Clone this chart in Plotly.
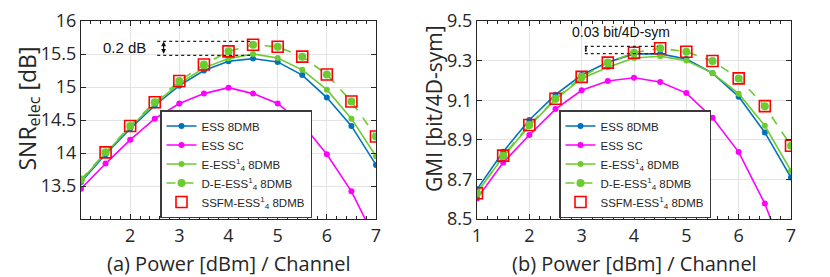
import plotly.graph_objects as go

# ---------------- data ----------------
power = [1, 1.5, 2, 2.5, 3, 3.5, 4, 4.5, 5, 5.5, 6, 6.5, 7]

snr_ess_8dmb = [13.56, 13.98, 14.37, 14.72, 15.02, 15.25, 15.39, 15.43, 15.38, 15.18, 14.84, 14.41, 13.82]
snr_ess_sc = [13.46, 13.84, 14.20, 14.52, 14.75, 14.90, 14.99, 14.90, 14.75, 14.44, 13.98, 13.42, 12.67]
snr_eess_8dmb = [13.58, 14.00, 14.39, 14.75, 15.05, 15.29, 15.43, 15.50, 15.44, 15.26, 14.96, 14.52, 13.95]
snr_deess_8dmb = [13.60, 14.01, 14.41, 14.77, 15.09, 15.34, 15.54, 15.64, 15.61, 15.46, 15.19, 14.78, 14.25]
snr_ssfm_power = [1.5, 2, 2.5, 3, 3.5, 4, 4.5, 5, 5.5, 6, 6.5, 7]
snr_ssfm_8dmb = [14.01, 14.41, 14.77, 15.09, 15.34, 15.54, 15.64, 15.61, 15.46, 15.19, 14.78, 14.25]

gmi_ess_8dmb = [8.65, 8.84, 9.00, 9.128, 9.227, 9.292, 9.334, 9.334, 9.308, 9.237, 9.118, 8.937, 8.709]
gmi_ess_sc = [8.603, 8.785, 8.924, 9.055, 9.150, 9.197, 9.213, 9.192, 9.136, 9.011, 8.838, 8.578, 8.23]
gmi_eess_8dmb = [8.633, 8.815, 8.97, 9.104, 9.21, 9.266, 9.313, 9.322, 9.30, 9.237, 9.133, 8.971, 8.743]
gmi_deess_8dmb = [8.63, 8.82, 8.975, 9.107, 9.218, 9.29, 9.34, 9.362, 9.345, 9.298, 9.21, 9.07, 8.87]
gmi_ssfm_power = [1, 1.5, 2, 2.5, 3, 3.5, 4, 4.5, 5, 5.5, 6, 6.5, 7]
gmi_ssfm_8dmb = [8.63, 8.82, 8.975, 9.107, 9.218, 9.29, 9.34, 9.362, 9.345, 9.298, 9.21, 9.07, 8.87]

series_names = ["ESS 8DMB", "ESS SC", "E-ESS<sup>1</sup><sub>4</sub> 8DMB",
                "D-E-ESS<sup>1</sup><sub>4</sub> 8DMB", "SSFM-ESS<sup>1</sup><sub>4</sub> 8DMB"]

snr_xticks = [2, 3, 4, 5, 6, 7]
snr_yticks = [13.5, 14, 14.5, 15, 15.5, 16]
snr_yticklabels = ["13.5", "14", "14.5", "15", "15.5", "16"]
gmi_xticks = [1, 2, 3, 4, 5, 6, 7]
gmi_yticks = [8.5, 8.7, 8.9, 9.1, 9.3, 9.5]
gmi_yticklabels = ["8.5", "8.7", "8.9", "9.1", "9.3", "9.5"]

x_title_a = "(a) Power [dBm] / Channel"
x_title_b = "(b) Power [dBm] / Channel"
y_title_a = "SNR<sub>elec</sub> [dB]"
y_title_b = "GMI [bit/4D-sym]"

# annotation values
snr_gap_lines = [15.69, 15.48]
gmi_gap_lines = [9.372, 9.335]

# ---------------- style ----------------
BLUE = "#0072BD"
MAG = "#FF00FF"
GREEN = "#6CCB2E"
RED = "#FF0000"
AX = "#262626"
GRID = "#E3E3E3"
TICKFONT = dict(family="Open Sans", size=18, color=AX)
TITLEFONT = dict(family="Open Sans", size=20, color=AX)
LEGFONT = dict(family="Liberation Sans, Arial", size=11.5, color=AX)

fig = go.Figure()


def add_panel(xa, ya, leg, x, ess, sc, eess, deess, ssfm_x, ssfm):
    common = dict(xaxis=xa, yaxis=ya, legend=leg)
    fig.add_trace(go.Scatter(x=x, y=ess, mode="lines+markers", name=series_names[0],
                             line=dict(color=BLUE, width=1.6), marker=dict(size=6, color=BLUE),
                             **common))
    fig.add_trace(go.Scatter(x=x, y=sc, mode="lines+markers", name=series_names[1],
                             line=dict(color=MAG, width=1.6), marker=dict(size=6, color=MAG),
                             **common))
    fig.add_trace(go.Scatter(x=x, y=eess, mode="lines+markers", name=series_names[2],
                             line=dict(color=GREEN, width=1.6), marker=dict(size=6, color=GREEN),
                             **common))
    fig.add_trace(go.Scatter(x=x, y=deess, mode="lines+markers", name=series_names[3],
                             line=dict(color=GREEN, width=1.6, dash="dash"),
                             marker=dict(size=8, color=GREEN), **common))
    fig.add_trace(go.Scatter(x=ssfm_x, y=ssfm, mode="markers", name=series_names[4],
                             marker=dict(size=11, symbol="square-open", color=RED,
                                         line=dict(width=1.6, color=RED)), **common))


add_panel("x", "y", "legend", power, snr_ess_8dmb, snr_ess_sc, snr_eess_8dmb, snr_deess_8dmb,
          snr_ssfm_power, snr_ssfm_8dmb)
add_panel("x2", "y2", "legend2", power, gmi_ess_8dmb, gmi_ess_sc, gmi_eess_8dmb, gmi_deess_8dmb,
          gmi_ssfm_power, gmi_ssfm_8dmb)

# The page body has an 8 px margin, so the figure sits at (8, 8) in the window.
OFF = 8
W, H = 830 - OFF, 277 - OFF


def px(v):
    return (v - OFF) / W


def py(v):
    return 1 - (v - OFF) / H


y_dom = [py(219), py(21)]

xcommon = dict(showline=True, linecolor=AX, linewidth=1.3, mirror="ticks", ticks="inside",
               ticklen=5, tickcolor=AX, tickwidth=1, showgrid=True, gridcolor=GRID, gridwidth=1,
               tickfont=TICKFONT, zeroline=False, automargin=False,
               minor=dict(dtick=0.2, tick0=1, ticks="inside", ticklen=3, tickcolor=AX, showgrid=False))
ycommon = dict(showline=True, linecolor=AX, linewidth=1.3, mirror="ticks", ticks="inside",
               ticklen=5, tickcolor=AX, tickwidth=1, showgrid=True, gridcolor=GRID, gridwidth=1,
               tickfont=TICKFONT, zeroline=False, automargin=False)

legcommon = dict(bgcolor="white", bordercolor="#3A3A3A", borderwidth=1.5, font=LEGFONT,
                 xanchor="left", yanchor="bottom", tracegroupgap=0, itemwidth=30)

fig.update_layout(
    width=W, height=H,
    margin=dict(l=0, r=0, t=0, b=0),
    paper_bgcolor="white", plot_bgcolor="white",
    xaxis=dict(domain=[px(81), px(376)], range=[1, 7], tickvals=snr_xticks, anchor="y", **xcommon),
    yaxis=dict(domain=y_dom, range=[13, 16], tickvals=snr_yticks, ticktext=snr_yticklabels,
               anchor="x", **ycommon),
    xaxis2=dict(domain=[px(477), px(791)], range=[1, 7], tickvals=gmi_xticks, anchor="y2", **xcommon),
    yaxis2=dict(domain=y_dom, range=[8.5, 9.5], tickvals=gmi_yticks, ticktext=gmi_yticklabels,
                anchor="x2", **ycommon),
    legend=dict(x=px(160), y=py(218), **legcommon),
    legend2=dict(x=px(559), y=py(218), **legcommon),
    showlegend=True,
)

# axis titles
fig.add_annotation(xref="paper", yref="paper", x=px(229), y=py(263), text=x_title_a,
                   showarrow=False, font=TITLEFONT, xanchor="center", yanchor="middle", borderpad=0)
fig.add_annotation(xref="paper", yref="paper", x=px(634), y=py(263), text=x_title_b,
                   showarrow=False, font=TITLEFONT, xanchor="center", yanchor="middle", borderpad=0)
fig.add_annotation(xref="paper", yref="paper", x=px(9), y=py(109), text=y_title_a,
                   showarrow=False, font=dict(family="Open Sans", size=23, color=AX), textangle=-90,
                   xanchor="left", yanchor="middle", borderpad=0)
fig.add_annotation(xref="paper", yref="paper", x=px(434), y=py(109), text=y_title_b,
                   showarrow=False, font=dict(family="Open Sans", size=21, color=AX), textangle=-90,
                   xanchor="center", yanchor="middle", borderpad=0)

# ---------------- annotations ----------------
dot = dict(color="#222222", width=1.2, dash="dot")
# panel (a): 0.2 dB
for yv in snr_gap_lines:
    fig.add_shape(type="line", xref="x", yref="y", x0=2.55, x1=4.48, y0=yv, y1=yv, line=dot)
fig.add_annotation(xref="x", yref="y", x=2.68, y=snr_gap_lines[0], ax=2.68, ay=snr_gap_lines[1],
                   axref="x", ayref="y", text="", showarrow=True, arrowhead=2, arrowside="end+start",
                   arrowsize=0.8, arrowwidth=1.2, arrowcolor="#111111")
fig.add_annotation(xref="x", yref="y", x=2.36, y=15.595, text="0.2 dB", showarrow=False,
                   xanchor="right", font=dict(family="Liberation Sans, Arial", size=15, color="#111111"))
# panel (b): 0.03 bit/4D-sym
for yv in gmi_gap_lines:
    fig.add_shape(type="line", xref="x2", yref="y2", x0=3.06, x1=4.45, y0=yv, y1=yv, line=dot)
fig.add_annotation(xref="x2", yref="y2", x=3.08, y=gmi_gap_lines[0], ax=3.08, ay=gmi_gap_lines[1],
                   axref="x2", ayref="y2", text="", showarrow=True, arrowhead=2, arrowside="end+start",
                   arrowsize=0.5, arrowwidth=1.0, arrowcolor="#111111")
fig.add_annotation(xref="x2", yref="y2", x=3.76, y=9.445, text="0.03 bit/4D-sym", showarrow=False,
                   font=dict(family="Liberation Sans, Arial", size=14, color="#111111"))

fig.write_html("out.html")
